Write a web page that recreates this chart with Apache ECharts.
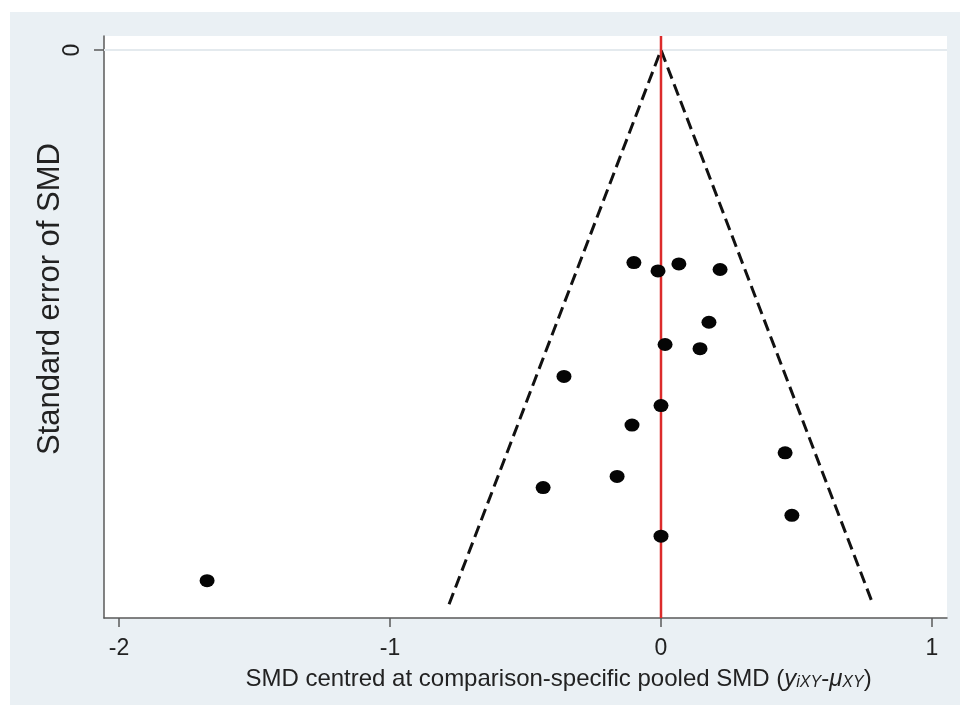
<!DOCTYPE html>
<html>
<head>
<meta charset="utf-8">
<script src="https://cdn.jsdelivr.net/npm/echarts@6/dist/echarts.min.js"></script>
<style>
  html, body { margin: 0; padding: 0; background: #ffffff; }
  #chart { width: 960px; height: 705px; }
</style>
</head>
<body>
<div id="chart"></div>
<script>
// Study-level points: SMD centred at comparison-specific pooled SMD, and its standard error
const centredSMD = [-0.100, -0.011, 0.066, 0.218, 0.177, 0.015, 0.144, -0.358,
                    0.000, -0.107, 0.458, -0.162, -0.435, 0.483, 0.000, -1.675];
const standardError = [0.153, 0.159, 0.154, 0.158, 0.196, 0.212, 0.215, 0.235,
                       0.256, 0.270, 0.290, 0.307, 0.315, 0.335, 0.350, 0.382];

// Pseudo 95% confidence limits: +/- 1.96 * SE down to the largest SE
const funnelZ = 1.96;
const funnelMaxSE = 0.399;

// Axis ticks and ranges
const xTicks = [-2, -1, 0, 1];
const yTicks = [0];
const xRange = [-2.0554, 1.0554];
const yRange = [-0.0101, 0.4089];

const points = centredSMD.map((v, i) => [v, standardError[i]]);
const funnel = [
  [-funnelZ * funnelMaxSE, funnelMaxSE],
  [0, 0],
  [funnelZ * funnelMaxSE, funnelMaxSE]
];

const font = 'Liberation Sans, Arial, sans-serif';
const chart = echarts.init(document.getElementById('chart'), null, { renderer: 'canvas' });

chart.setOption({
  backgroundColor: '#ffffff',
  animation: false,
  graphic: [{
    type: 'rect',
    z: -10,
    silent: true,
    shape: { x: 10, y: 12, width: 950, height: 693 },
    style: { fill: '#eaf0f4' }
  }],
  grid: {
    left: 104, top: 36, right: 13, bottom: 87,
    outerBoundsMode: 'none',
    containLabel: false,
    show: true, backgroundColor: '#ffffff', borderWidth: 0
  },
  xAxis: {
    type: 'value',
    min: xRange[0], max: xRange[1],
    axisLine: { show: true, onZero: false, lineStyle: { color: '#5a5a5a', width: 1.5 } },
    axisTick: { show: true, customValues: xTicks, length: 9, lineStyle: { color: '#5a5a5a', width: 1.5 } },
    axisLabel: { customValues: xTicks, fontFamily: font, fontSize: 23, color: '#222', margin: 19 },
    splitLine: { show: false },
    name: 'SMD centred at comparison-specific pooled SMD ({i|y}{s|iXY}-{i|μ}{s|XY})',
    nameLocation: 'middle',
    nameGap: 49,
    nameMoveOverlap: false,
    nameTextStyle: {
      fontFamily: font, fontSize: 24, color: '#222',
      padding: [0, 0, 0, 66],
      rich: {
        i: { fontFamily: font, fontSize: 24, fontStyle: 'italic', color: '#222' },
        s: { fontFamily: font, fontSize: 16, fontStyle: 'italic', color: '#222', padding: [8, 0, 0, 0] }
      }
    }
  },
  yAxis: {
    type: 'value',
    inverse: true,
    min: yRange[0], max: yRange[1],
    axisLine: { show: true, onZero: false, lineStyle: { color: '#5a5a5a', width: 1.5 } },
    axisTick: { show: true, customValues: yTicks, length: 10, lineStyle: { color: '#5a5a5a', width: 1.5 } },
    axisLabel: { customValues: yTicks, rotate: 90, fontFamily: font, fontSize: 23, color: '#222', margin: 20 },
    splitLine: { show: false },
    name: 'Standard error of SMD',
    nameLocation: 'middle',
    nameGap: 38,
    nameRotate: 90,
    nameMoveOverlap: false,
    nameTextStyle: { fontFamily: font, fontSize: 31, color: '#222', padding: [0, 0, 0, 56] }
  },
  series: [
    {
      // light reference line at SE = 0
      type: 'line',
      silent: true,
      symbol: 'none',
      data: [[xRange[0], 0], [xRange[1], 0]],
      lineStyle: { color: '#e4eaee', width: 2 },
      z: 1
    },
    {
      type: 'line',
      silent: true,
      symbol: 'none',
      data: funnel,
      lineStyle: { color: '#111', width: 3, type: [12, 6] },
      z: 2
    },
    {
      type: 'line',
      silent: true,
      symbol: 'none',
      data: [[0, yRange[0]], [0, yRange[1]]],
      lineStyle: { color: '#dc2b2b', width: 2.5 },
      z: 3
    },
    {
      type: 'scatter',
      data: points,
      symbol: 'circle',
      symbolSize: [15, 13],
      itemStyle: { color: '#050505', opacity: 1 },
      z: 4
    }
  ]
});
</script>
</body>
</html>
